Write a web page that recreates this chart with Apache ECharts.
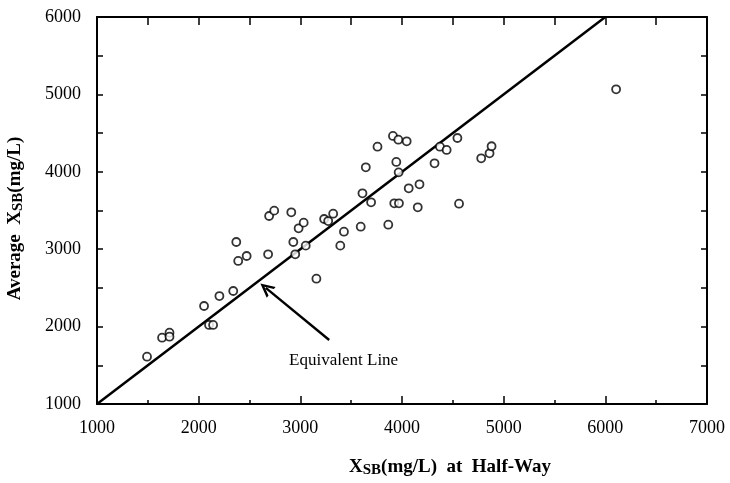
<!DOCTYPE html>
<html>
<head>
<meta charset="utf-8">
<script src="https://cdn.jsdelivr.net/npm/echarts@6/dist/echarts.min.js"></script>
<style>
  html, body { margin: 0; padding: 0; background: #fff; }
  #chart { width: 730px; height: 483px; }
</style>
</head>
<body>
<div id="chart"></div>
<script>
// X_SB at half-way vs average X_SB (mg/L)
var halfWay = [1492, 1640, 1713, 1713, 2053, 2102, 2142, 2204, 2340, 2370, 2389, 2472,
  2683, 2693, 2743, 2911, 2931, 2950, 2983, 3033, 3053, 3158, 3234, 3274, 3323, 3393,
  3429, 3594, 3611, 3696, 3644, 3759, 3865, 3911, 3964, 3944, 3967, 3924, 3970, 4046,
  4066, 4172, 4155, 4320, 4373, 4439, 4545, 4561, 4779, 4861, 4881, 6106];
var average = [1611, 1857, 1921, 1870, 2266, 2021, 2021, 2395, 2460, 3093, 2848, 2912,
  2934, 3429, 3498, 3477, 3093, 2934, 3270, 3343, 3046, 2619, 3390, 3364, 3459, 3046,
  3226, 3291, 3722, 3606, 4058, 4324, 3317, 4463, 4415, 4127, 3993, 3593, 3593, 4394,
  3787, 3838, 3541, 4110, 4324, 4282, 4437, 3588, 4174, 4239, 4330, 5066];

// equivalent (1:1) line ends and the arrow annotation
var lineX = [1000, 6000];
var lineY = [1000, 6000];
var arrowFrom = [3284, 1827];
var arrowTo = [2660, 2500];
var noteAt = [3426, 1568];
var noteText = 'Equivalent Line';

var xMin = 1000, xMax = 7000, yMin = 1000, yMax = 6000;

(function () {
  'use strict';

  var chart = echarts.init(document.getElementById('chart'));
  var serif = '"Liberation Serif", "Times New Roman", serif';

  var points = halfWay.map(function (x, i) { return [x, average[i]]; });
  var eqLine = lineX.map(function (x, i) { return [x, lineY[i]]; });

  function plain(v) { return String(v); }

  var nameRich = {
    b: { fontFamily: serif, fontWeight: 'bold', fontSize: 19, color: '#000' },
    s: { fontFamily: serif, fontWeight: 'bold', fontSize: 15, color: '#000', padding: [7, 0, 0, 0] }
  };

  var option = {
    backgroundColor: '#fff',
    animation: false,
    grid: { left: 97, right: 23, top: 17, bottom: 79, containLabel: false, outerBoundsMode: 'none' },
    xAxis: [{
      type: 'value', min: xMin, max: xMax, interval: 1000,
      name: '{b|X}{s|SB}{b|(mg/L)  at  Half-Way}',
      nameLocation: 'middle', nameGap: 52,
      nameTextStyle: { rich: nameRich, padding: [0, 0, 0, 96] },
      axisLine: { show: true, lineStyle: { color: '#000', width: 2 } },
      axisTick: { show: true, inside: true, length: 8, lineStyle: { color: '#000', width: 1.5 } },
      minorTick: { show: true, splitNumber: 2, length: 4, lineStyle: { color: '#000', width: 1.5 } },
      axisLabel: { color: '#000', fontFamily: serif, fontSize: 18, margin: 15, formatter: plain },
      splitLine: { show: false }
    }, {
      type: 'value', position: 'top', min: xMin, max: xMax, interval: 500,
      axisLine: { show: true, lineStyle: { color: '#000', width: 2 } },
      axisTick: { show: true, inside: true, length: 8, lineStyle: { color: '#000', width: 1.5 } },
      axisLabel: { show: false },
      splitLine: { show: false }
    }],
    yAxis: [{
      type: 'value', min: yMin, max: yMax, interval: 1000,
      name: '{b|Average  X}{s|SB}{b|(mg/L)}',
      nameLocation: 'middle', nameGap: 71, nameRotate: 90,
      nameTextStyle: { rich: nameRich, padding: [0, 16, 0, 0] },
      axisLine: { show: true, lineStyle: { color: '#000', width: 2 } },
      axisTick: { show: true, inside: true, length: 6, lineStyle: { color: '#000', width: 1.5 } },
      minorTick: { show: true, splitNumber: 2, length: 6, lineStyle: { color: '#000', width: 1.5 } },
      axisLabel: { color: '#000', fontFamily: serif, fontSize: 18, margin: 16, formatter: plain },
      splitLine: { show: false }
    }, {
      type: 'value', position: 'right', min: yMin, max: yMax, interval: 500,
      axisLine: { show: true, lineStyle: { color: '#000', width: 2 } },
      axisTick: { show: true, inside: true, length: 6, lineStyle: { color: '#000', width: 1.5 } },
      axisLabel: { show: false },
      splitLine: { show: false }
    }],
    series: [{
      name: 'Equivalent Line',
      type: 'line',
      data: eqLine,
      showSymbol: false,
      lineStyle: { color: '#000', width: 2.5 },
      silent: true,
      markLine: {
        silent: true,
        symbol: ['none', 'path://M5,0 L10,9 L8,9 L5,3.4 L2,9 L0,9 Z'],
        symbolSize: [14, 14],
        label: { show: false },
        lineStyle: { color: '#000', width: 2.4, type: 'solid' },
        data: [[{ coord: arrowFrom }, { coord: arrowTo }]]
      },
      markPoint: {
        silent: true,
        symbol: 'circle', symbolSize: 0,
        label: {
          show: true, formatter: noteText, color: '#000',
          fontFamily: serif, fontSize: 17
        },
        data: [{ coord: noteAt }]
      }
    }, {
      name: 'Data',
      type: 'scatter',
      data: points,
      symbol: 'circle',
      symbolSize: 8,
      itemStyle: { color: '#fff', borderColor: '#000', borderWidth: 1.8 },
      z: 3
    }]
  };

  chart.setOption(option);
  window.addEventListener('resize', function () { chart.resize(); });
})();
</script>
</body>
</html>
